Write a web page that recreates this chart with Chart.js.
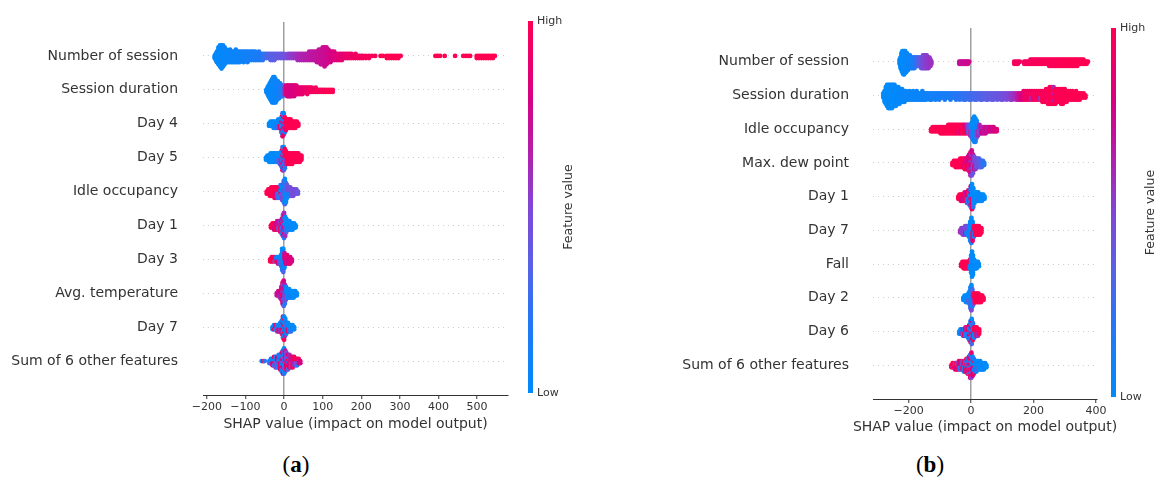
<!DOCTYPE html>
<html>
<head>
<meta charset="utf-8">
<script src="https://cdn.jsdelivr.net/npm/chart.js@4.4.1/dist/chart.umd.min.js"></script>
<style>
  html, body { margin: 0; padding: 0; background: #fff; width: 1156px; height: 481px; overflow: hidden; }
  canvas { position: absolute; top: 0; }
  #ca { left: 0; }
  #cb { left: 560px; }
  .cap { position: absolute; top: 452px; font-family: "Liberation Serif", "DejaVu Serif", serif; font-size: 23px; color: #000; transform: translateX(-50%); }
</style>
</head>
<body>
<canvas id="ca" width="580" height="440"></canvas>
<canvas id="cb" width="596" height="445"></canvas>
<div class="cap" style="left:296px">(<b>a</b>)</div>
<div class="cap" style="left:930px">(<b>b</b>)</div>
<script>
// ---------------- DATA ----------------
// each bin: [SHAP value, number of stacked dots, normalised feature value (0 = low, 1 = high) or list cycling through dots]
const aFeatures = ["Number of session", "Session duration", "Day 4", "Day 5", "Idle occupancy", "Day 1", "Day 3", "Avg. temperature", "Day 7", "Sum of 6 other features"];
const bFeatures = ["Number of session", "Session duration", "Idle occupancy", "Max. dew point", "Day 1", "Day 7", "Fall", "Day 2", "Day 6", "Sum of 6 other features"];
const aTicks = [-200, -100, 0, 100, 200, 300, 400, 500];
const bTicks = [-200, 0, 200, 400];
const xTitle = "SHAP value (impact on model output)";

const aNumSession = [[-180,2,0.02],[-177,4,0.02],[-174,6,0.02],[-170,9,0.02],[-166,11,0.02],[-162,12,0.02],[-158,11,0.03],[-154,9,0.03],[-150,7,0.04],[-145,6,0.04],[-140,7,0.05],[-135,6,0.05],[-130,6,0.06],[-125,7,0.06],[-120,6,0.07],[-115,6,0.07],[-110,5,0.08],[-105,6,0.08],[-100,5,0.09],[-95,6,0.1],[-90,5,0.1],[-85,5,0.11],[-80,5,0.12],[-75,5,0.13],[-70,4,0.14],[-65,5,0.15],[-60,4,0.17],[-55,4,0.2],[-50,3,0.24],[-45,3,0.28],[-40,3,0.32],[-35,4,0.34],[-30,4,0.35],[-25,4,0.36],[-20,3,0.37],[-15,3,0.38],[-10,3,0.4],[-5,3,0.41],[0,3,0.42],[5,2,0.45],[10,3,0.5],[15,3,0.52],[20,3,0.55],[25,3,0.56],[30,3,0.58],[35,4,0.6],[40,4,0.62],[45,4,0.63],[50,4,0.64],[55,4,0.65],[60,4,0.66],[65,5,0.67],[70,5,0.68],[75,5,0.69],[80,5,0.7],[85,6,0.71],[90,7,0.72],[95,8,0.72],[100,9,0.73],[105,10,0.74],[110,9,0.75],[115,7,0.76],[120,6,0.78],[125,5,0.8],[130,5,0.82],[135,4,0.83],[140,4,0.85],[145,4,0.86],[150,4,0.87],[155,3,0.88],[160,3,0.9],[165,3,0.9],[170,3,0.91],[175,3,0.92],[180,2,0.93],[185,3,0.93],[190,2,0.94],[195,2,0.95],[200,2,0.95],[205,2,0.96],[212,2,0.96],[220,2,0.97],[228,1,0.97],[236,1,0.98],[250,1,1],[256,1,1],[266,2,1],[272,2,1],[278,2,1],[284,2,1],[290,2,1],[296,2,1],[302,1,1],[392,1,1],[398,1,1],[404,1,1],[416,1,1],[443,1,1],[464,1,1],[470,1,1],[476,1,1],[482,1,1],[499,2,1],[505,2,1],[511,2,1],[517,2,1],[523,2,1],[529,2,1],[535,2,1],[541,2,1],[546,1,1]];
const aSessionDur = [[-46,2,0.02],[-43,4,0.02],[-40,6,0.02],[-37,8,0.02],[-34,10,0.03],[-31,12,0.03],[-28,13,0.03],[-25,13,0.04],[-22,12,0.05],[-19,10,0.06],[-16,9,0.08],[-13,8,0.1],[-10,7,0.12],[-7,6,0.15],[-4,6,0.2],[-1,5,0.3],[2,4,0.6],[5,5,0.8],[8,6,0.85],[11,6,0.8],[14,6,0.82],[17,6,0.8],[20,6,0.8],[23,5,0.82],[26,6,0.8],[29,5,0.82],[32,5,0.84],[36,4,0.85],[40,4,0.86],[44,4,0.87],[48,4,0.88],[52,3,0.9],[56,3,0.9],[60,4,0.91],[64,3,0.92],[68,3,0.93],[72,3,0.94],[77,2,0.95],[82,3,0.95],[87,2,0.96],[92,2,0.97],[97,2,0.97],[102,2,0.98],[108,2,0.98],[114,2,1],[120,2,1],[126,2,1]];
const aDay4 = [[-39,2,0],[-35,3,0],[-31,3,0],[-27,4,0],[-23,4,0.05],[-19,4,[0,0.2]],[-15,5,[0,0.3]],[-11,5,[0,0.9]],[-7,8,[0,0.1,0.9]],[-4,12,[0,0.3,0.9]],[-1,11,[0.9,0,0.5]],[2,8,[1,0.1,0.7]],[5,6,[1,0.9]],[9,5,1],[13,5,1],[17,5,1],[21,4,1],[25,4,1],[29,4,1],[33,3,1],[37,2,1]];
const aDay5 = [[-47,2,0],[-43,3,0],[-39,4,0],[-35,5,0],[-31,5,0],[-27,5,0],[-23,5,0.05],[-19,5,0],[-15,5,[0,0.3]],[-11,6,[0,0.4]],[-7,8,[0,0.6]],[-4,12,[0,0.3,0.9]],[-1,12,[0.9,0,0.4]],[2,10,[1,0.2]],[5,7,[1,0.6]],[9,6,1],[13,6,1],[17,6,1],[21,6,1],[25,5,1],[29,5,1],[33,5,1],[37,5,1],[41,4,1],[45,3,1]];
const aIdle = [[-45,2,1],[-41,3,1],[-37,4,1],[-33,5,1],[-29,5,1],[-25,6,1],[-21,6,[1,0.8]],[-17,6,[1,0.3]],[-13,6,[0.9,0.2]],[-9,7,[0.3,1,0]],[-5,8,[0,0.5]],[-1,11,[0,0.4,0.6]],[2,13,[0,0.3]],[5,10,[0.2,0]],[8,7,[0.4,0]],[12,5,[0.5,0.2]],[16,5,[0.45,0.1]],[20,4,0.45],[24,4,0.5],[28,3,0.45],[32,3,0.45],[36,2,0.4]];
const aDay1 = [[-34,2,1],[-30,3,1],[-26,4,[1,0.8]],[-22,4,[0.8,1]],[-18,5,[0.7,0.9]],[-14,5,[0.7,0.3]],[-10,6,[0.6,0.9]],[-6,8,[0.7,0.2]],[-3,11,[0.7,0.3,1]],[0,13,[0.6,0.8,0.2]],[3,10,[0,0.6]],[6,7,[0,0.3]],[10,5,0],[14,5,[0,0.2]],[18,4,0],[22,4,0],[26,3,0],[30,2,0]];
const aDay3 = [[-36,2,1],[-32,3,1],[-28,3,1],[-24,3,[1,0.3]],[-20,3,[0.2,1]],[-16,4,[0,0.8]],[-12,4,[0,0.5]],[-8,6,0],[-5,11,[0,0.2]],[-2,12,[0,0.3]],[1,8,[0.7,0]],[4,5,0.8],[8,5,[0.9,0.7]],[12,4,0.8],[16,4,0.85],[20,2,0.8]];
const aAvgTemp = [[-19,2,0.7],[-15,3,0.75],[-11,4,[0.8,0.6]],[-7,7,[0.75,1]],[-4,11,[0.7,0.9,0.6]],[-1,13,[0.8,0.6,0.3]],[2,10,[0.65,0.2]],[5,7,[0.1,0.5]],[9,5,0],[13,5,0],[17,4,[0,0.2]],[21,4,0],[25,4,0],[29,3,0],[33,2,0]];
const aDay7 = [[-30,2,0],[-26,3,[0,0.9]],[-22,3,[0.9,0]],[-18,4,[0,0.5]],[-14,4,[0.2,0.9]],[-10,5,[0,0.6]],[-6,7,[0.1,1]],[-3,11,[0,0.9,0.3]],[0,12,[0.2,0,1]],[3,9,[0,0.6]],[6,6,[0.3,0]],[10,5,[0,0.9]],[14,4,0],[18,4,[0,0.3]],[22,3,0],[26,2,0]];
const aOther = [[-58,1,0],[-54,1,1],[-50,1,0.2],[-38,2,0.1],[-34,3,[0,0.5]],[-30,4,[0,0.8]],[-26,5,[0.2,0.9,0]],[-22,6,[0,0.5]],[-18,6,[0.8,0]],[-14,7,[0,0.6,0.3]],[-10,8,[0.1,0.9]],[-6,10,[0,0.5,0.9]],[-3,12,[0.3,0,0.8]],[0,13,[0,0.6,0.2]],[3,11,[0.7,0.1]],[6,9,[0.5,0.9]],[10,8,[0.8,0.3,1]],[14,7,[0.6,0.9]],[18,6,[1,0.5]],[22,6,[0.7,1]],[26,5,[0.9,0.6]],[30,4,[1,0.5]],[34,4,[0.8,0.2]],[38,3,[1,0.7]],[42,2,0.8]];

const bNumSession = [[-229,3,0],[-226,6,0],[-223,9,0],[-220,11,0],[-217,12,0],[-214,12,0],[-211,11,0.02],[-208,10,0.02],[-205,9,0.03],[-202,8,0.04],[-199,7,0.05],[-196,7,0.06],[-193,6,0.07],[-190,6,0.08],[-187,6,0.1],[-184,6,0.12],[-181,6,0.15],[-178,5,0.18],[-175,5,0.22],[-172,5,0.26],[-169,5,0.3],[-166,5,0.33],[-163,5,0.36],[-160,6,0.4],[-157,6,0.43],[-154,7,0.46],[-151,7,0.48],[-148,7,0.5],[-145,7,0.52],[-142,7,0.53],[-139,6,0.54],[-136,6,0.55],[-133,5,0.56],[-130,4,0.57],[-127,2,0.58],[-38,2,0.72],[-34,2,0.72],[-30,2,0.73],[-26,2,0.73],[-22,2,0.74],[-18,2,0.74],[-14,2,0.75],[-10,2,0.75],[-6,1,0.76],[138,2,0.95],[144,2,0.95],[150,2,0.95],[156,1,0.95],[170,2,0.95],[175,2,0.95],[180,2,0.95],[185,2,0.95],[190,3,0.96],[195,3,0.96],[200,3,0.96],[205,3,0.96],[210,3,0.97],[215,3,0.96],[220,3,0.97],[225,3,0.97],[230,3,0.97],[235,3,0.97],[240,3,0.98],[245,3,0.97],[250,4,0.98],[255,4,0.98],[260,4,0.98],[265,4,0.98],[270,4,0.98],[275,4,0.98],[280,4,0.99],[285,4,0.98],[290,4,0.99],[295,4,0.99],[300,4,0.99],[305,4,0.99],[310,4,0.99],[315,4,0.99],[320,4,1],[325,4,1],[330,4,1],[335,4,1],[340,4,1],[345,3,1],[350,3,1],[355,3,1],[360,3,1],[365,2,1],[370,2,1],[374,1,1]];
const bSessionDur = [[-281,3,0],[-277,6,0],[-273,9,0],[-269,11,0],[-265,12,0],[-261,12,0],[-257,12,0],[-253,12,0],[-249,11,0],[-245,11,0.01],[-241,10,0.01],[-237,9,0.02],[-233,9,0.02],[-229,8,0.02],[-225,7,0.03],[-221,7,0.03],[-217,6,0.03],[-213,6,0.04],[-209,5,0.04],[-204,4,0.04],[-198,5,0.05],[-192,4,0.05],[-186,5,0.05],[-180,4,0.06],[-174,5,0.06],[-168,4,0.06],[-162,4,0.07],[-156,5,0.07],[-150,4,0.08],[-144,4,0.08],[-138,3,0.09],[-132,4,0.09],[-126,4,0.1],[-120,3,0.1],[-114,4,0.1],[-108,3,0.11],[-102,4,0.11],[-96,3,0.12],[-90,3,0.12],[-84,4,0.13],[-78,3,0.13],[-72,3,0.14],[-66,4,0.15],[-60,3,0.16],[-54,3,0.17],[-48,4,0.18],[-42,3,0.2],[-36,4,0.21],[-30,3,0.22],[-24,4,0.23],[-18,4,0.24],[-12,3,0.25],[-6,4,0.26],[0,4,0.27],[6,3,0.28],[12,4,0.29],[18,4,0.3],[24,3,0.31],[30,4,0.32],[36,4,0.33],[42,3,0.34],[48,4,0.35],[54,4,0.36],[60,3,0.37],[66,4,0.38],[72,4,0.39],[78,3,0.4],[84,4,0.41],[90,3,0.42],[96,4,0.43],[102,4,0.44],[108,3,0.46],[114,4,0.48],[120,3,0.5],[126,4,0.52],[132,4,0.55],[138,3,0.58],[144,4,0.62],[150,4,0.68],[156,4,0.75],[162,4,0.82],[168,5,0.88],[174,5,0.92],[180,5,0.93],[186,5,0.94],[192,5,[0.94,0.6]],[198,5,0.95],[204,5,0.95],[210,5,0.96],[216,5,0.96],[222,5,[0.96,0.55]],[228,6,0.97],[234,6,0.97],[240,7,0.97],[246,8,0.98],[252,9,0.98],[258,9,0.98],[264,9,[0.98,0.98,0.6]],[270,8,0.98],[276,7,0.99],[282,7,0.99],[288,8,0.99],[294,8,0.99],[300,7,0.99],[306,6,0.99],[312,5,1],[318,5,1],[324,5,1],[330,4,1],[336,5,1],[342,4,1],[348,4,1],[354,3,1],[360,3,1],[366,2,1]];
const bIdle = [[-128,2,1],[-123,3,1],[-118,3,1],[-113,3,1],[-108,3,1],[-103,3,1],[-98,4,1],[-93,4,1],[-88,4,1],[-83,4,1],[-78,4,1],[-73,5,1],[-68,5,1],[-63,5,1],[-58,5,1],[-53,5,1],[-48,5,1],[-43,5,[1,0.9]],[-38,5,1],[-33,5,[1,0.8]],[-28,5,1],[-23,5,[0.9,1]],[-18,5,[0.8,1]],[-13,5,[0.6,0.9]],[-8,5,[0.5,0.3]],[-3,6,[0.3,0.6]],[2,8,[0,0.4]],[6,11,0],[10,13,0],[14,12,[0,0.1]],[18,9,[0,0.3]],[22,6,[0.1,0.6]],[27,5,[0.6,0.4]],[32,4,0.7],[37,4,[0.6,0.8]],[42,4,0.7],[47,4,0.75],[52,3,0.7],[57,3,0.75],[62,3,0.8],[67,3,0.75],[72,3,0.8],[77,2,0.8],[82,2,0.85]];
const bDewPoint = [[-60,2,1],[-55,3,1],[-50,4,1],[-45,4,1],[-40,4,1],[-35,5,1],[-30,5,1],[-25,5,[1,0.8]],[-20,6,[0.9,1]],[-15,6,[0.8,1]],[-10,7,[0.8,0.9]],[-6,9,[0.85,0.7]],[-2,12,[0.8,0.9,0.6]],[2,13,[0.75,0.85,0.5]],[6,10,[0.7,0.4]],[10,7,[0.5,0.7]],[14,6,[0.4,0.6]],[18,5,[0.5,0.3]],[22,5,0.4],[26,5,[0.3,0.5]],[30,4,0.35],[34,4,0.3],[38,3,0.25],[42,2,0.2]];
const bDay1 = [[-41,2,1],[-37,3,1],[-33,4,1],[-29,4,[1,0.8]],[-25,4,[0.8,1]],[-21,5,[1,0.7]],[-17,5,[0.7,1]],[-13,6,[0.8,0.5]],[-9,7,[0.9,0.2]],[-5,8,[0.7,0.3,0]],[-1,11,[0,0.8,0.2]],[3,13,[0,0.9]],[7,10,[0,0.2]],[11,6,0],[15,5,0],[19,5,0],[23,5,[0,0.2]],[27,4,0],[31,4,0],[35,4,0],[39,3,0],[43,2,0]];
const bDay7 = [[-35,2,0.6],[-31,3,0.5],[-27,4,0.55],[-23,4,0.5],[-19,5,[0.5,0.7]],[-15,5,[0.45,0.2]],[-11,5,[0.5,0.1]],[-7,6,[0.3,0]],[-3,10,0],[1,13,[0,0.1]],[5,10,[0,0.9]],[9,6,[1,0.2]],[13,5,1],[17,5,1],[21,5,1],[25,5,1],[29,4,1],[33,3,1]];
const bFall = [[-32,2,1],[-28,3,1],[-24,4,1],[-20,4,1],[-16,4,1],[-12,4,1],[-8,4,1],[-4,5,[1,0.1]],[0,9,0],[3,13,0],[6,10,0],[10,5,0],[14,4,0],[18,4,0],[22,3,0],[25,2,0]];
const bDay2 = [[-25,2,0],[-21,3,0],[-17,4,0],[-13,4,0],[-9,5,[0,0.3]],[-5,7,0],[-2,11,[0,0.3]],[1,13,[0,0.5]],[4,9,[0.3,0]],[8,6,[1,0.5]],[12,5,1],[16,5,1],[20,5,1],[24,5,1],[28,4,1],[32,4,1],[36,3,1],[40,2,1]];
const bDay6 = [[-38,2,0],[-34,3,0],[-30,3,[0,0.6]],[-26,4,[0.7,0]],[-22,4,[0,0.9]],[-18,5,[0.9,0.2]],[-14,5,[0.6,0]],[-10,6,[0.9,0.1]],[-6,8,[0.8,0,0.5]],[-2,11,[0.9,0.2,0]],[2,13,[0,0.8,0.3]],[6,9,[0.2,1]],[10,6,[1,0]],[14,5,[0.9,0.4]],[18,5,1],[22,4,[1,0.6]],[26,3,1]];
const bOther = [[-63,2,1],[-59,3,[1,0.6]],[-55,3,1],[-51,4,[0.5,1]],[-47,4,[1,0.8]],[-43,4,[0.3,1]],[-39,5,[1,0.6]],[-35,5,[0.8,0.2]],[-31,5,[1,0.5]],[-27,5,[0.3,1]],[-23,6,[0.9,0.1]],[-19,6,[0.5,1]],[-15,7,[1,0.2,0.7]],[-11,8,[0.2,0.9]],[-7,9,[0.6,0,1]],[-3,12,[1,0.3,0.8]],[1,13,[0.9,0.2,0.5]],[5,10,[0,0.8]],[9,8,[0.2,0.9,0]],[13,6,[0,0.5]],[17,6,0],[21,5,[0,0.4]],[25,5,0],[29,5,0],[33,4,0],[37,4,0],[41,4,0],[45,3,0],[49,2,0]];

const aSeries = [aNumSession, aSessionDur, aDay4, aDay5, aIdle, aDay1, aDay3, aAvgTemp, aDay7, aOther];
const bSeries = [bNumSession, bSessionDur, bIdle, bDewPoint, bDay1, bDay7, bFall, bDay2, bDay6, bOther];

// ---------------- STYLE ----------------
const cStops = [[0,[0,138,250]],[0.2,[38,118,245]],[0.35,[90,96,228]],[0.5,[128,70,215]],[0.65,[180,30,170]],[0.8,[215,0,130]],[1,[255,0,82]]];
function cmap(t) {
  t = Math.max(0, Math.min(1, t));
  for (let i = 1; i < cStops.length; i++) {
    if (t <= cStops[i][0]) {
      const [t0, c0] = cStops[i-1], [t1, c1] = cStops[i];
      const f = (t - t0) / (t1 - t0);
      return 'rgb(' + c0.map((v, k) => Math.round(v + (c1[k] - v) * f)).join(',') + ')';
    }
  }
  return 'rgb(255,0,82)';
}
const DOT_STEP = 0.062; // vertical spacing of stacked dots, in row units

// beeswarm layout: stack each bin's dots alternately around the row
function swarm(seriesList) {
  const pts = [], cols = [];
  seriesList.forEach((bins, row) => {
    const used = {};
    bins.forEach(([x, n, c]) => {
      const k0 = used[x] || 0;
      for (let i = 0; i < n; i++) {
        const k = k0 + i;
        const off = k === 0 ? 0 : (k % 2 ? Math.ceil(k / 2) : -k / 2);
        const cv = Array.isArray(c) ? c[i % c.length] : c;
        pts.push({ x: x, y: row + off * DOT_STEP });
        cols.push(cmap(cv));
      }
      used[x] = k0 + n;
    });
  });
  return { pts, cols };
}

const cbarPlugin = {
  id: 'cbar',
  afterDraw(chart, args, o) {
    const ctx = chart.ctx;
    const ca = chart.chartArea;
    ctx.save();
    // axis title (drawn without width squeezing)
    ctx.fillStyle = '#333';
    ctx.font = '14px "DejaVu Sans"';
    ctx.textAlign = 'center';
    ctx.textBaseline = 'middle';
    ctx.fillText(xTitle, (ca.left + ca.right) / 2, o.ty);
    // colour bar
    const g = ctx.createLinearGradient(0, o.bottom, 0, o.top);
    cStops.forEach(([t]) => g.addColorStop(t, cmap(t)));
    ctx.fillStyle = g;
    ctx.fillRect(o.x, o.top, o.w, o.bottom - o.top);
    ctx.fillStyle = '#333';
    ctx.font = '11px "DejaVu Sans"';
    ctx.textAlign = 'left';
    ctx.textBaseline = 'middle';
    ctx.fillText('High', o.tx, o.top);
    ctx.fillText('Low', o.tx, o.bottom);
    ctx.font = '12.5px "DejaVu Sans"';
    ctx.translate(o.fx, (o.top + o.bottom) / 2);
    ctx.rotate(-Math.PI / 2);
    ctx.textAlign = 'center';
    ctx.fillText('Feature value', 0, 0);
    ctx.restore();
  }
};

Chart.defaults.font.family = '"DejaVu Sans", sans-serif';
Chart.defaults.color = '#333';

function makeChart(id, features, series, ticks, xmin, xmax, geo) {
  const sw = swarm(series);
  return new Chart(document.getElementById(id), {
    type: 'scatter',
    data: { datasets: [{ data: sw.pts, backgroundColor: sw.cols, pointRadius: 2.4, pointHoverRadius: 2.4, borderWidth: 0 }] },
    plugins: [cbarPlugin],
    options: {
      responsive: false, animation: false, devicePixelRatio: 1,
      layout: { padding: { top: geo.top, right: geo.right, left: 0, bottom: 0 } },
      plugins: { legend: { display: false }, tooltip: { enabled: false }, cbar: geo.cbar },
      scales: {
        x: {
          type: 'linear', min: xmin, max: xmax,
          afterBuildTicks: s => { s.ticks = ticks.map(v => ({ value: v })); },
          afterFit: s => { s.height = geo.xh; s.paddingLeft = 0; s.paddingRight = 0; },
          ticks: { callback: v => v < 0 ? '\u2212' + (-v) : '' + v, font: { size: 11 }, color: '#333', padding: 2, maxRotation: 0, autoSkip: false },
          grid: { color: c => (c.tick && c.tick.value === 0) ? '#a0a0a0' : 'rgba(0,0,0,0)', lineWidth: 1.5, drawTicks: true, tickLength: 4, tickColor: '#333', tickWidth: 1 },
          border: { display: true, color: '#333', width: 1 },
          title: { display: false }
        },
        y: {
          type: 'linear', min: -1, max: 10, reverse: true,
          afterBuildTicks: s => { s.ticks = features.map((f, i) => ({ value: i })); },
          afterFit: s => { s.width = geo.yw; s.paddingTop = 0; s.paddingBottom = 0; },
          ticks: { callback: v => features[v], font: { size: 14 }, color: '#333', padding: geo.ypad, autoSkip: false },
          grid: { color: '#cfcfcf', lineWidth: 1, drawTicks: false, tickLength: 0 },
          border: { display: false, dash: [1, 4] }
        }
      }
    }
  });
}

makeChart('ca', aFeatures, aSeries, aTicks, -210, 580,
  { top: 22, right: 72, xh: 45, yw: 203, ypad: 25,
    cbar: { x: 528, w: 5, top: 21, bottom: 393, tx: 537, fx: 569, ty: 424 } });
makeChart('cb', bFeatures, bSeries, bTicks, -314, 403,
  { top: 28, right: 59, xh: 46, yw: 313, ypad: 24,
    cbar: { x: 551, w: 5, top: 28, bottom: 397, tx: 560, fx: 591, ty: 427 } });
</script>
</body>
</html>
